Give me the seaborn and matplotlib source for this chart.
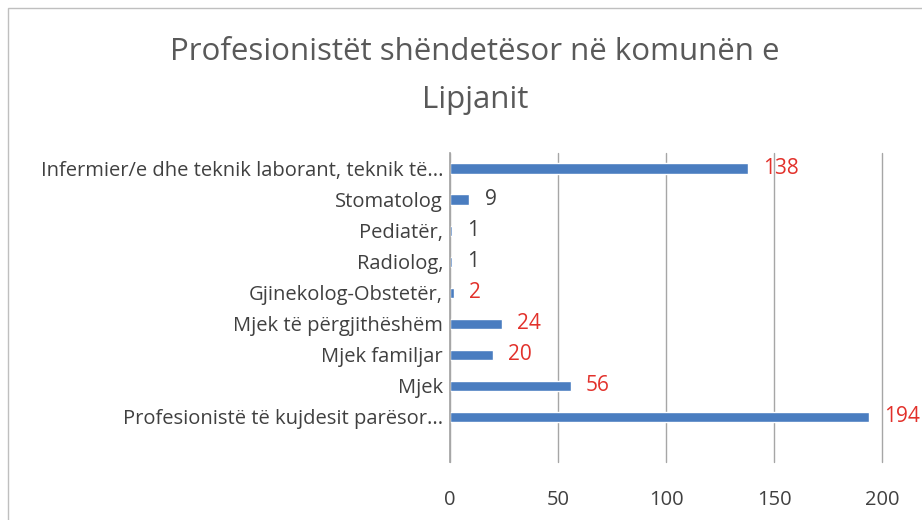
import matplotlib
matplotlib.use("Agg")
import matplotlib.pyplot as plt
import seaborn as sns
import pandas as pd

categories = [
    "Infermier/e dhe teknik laborant, teknik të...",
    "Stomatolog",
    "Pediatër,",
    "Radiolog,",
    "Gjinekolog-Obstetër,",
    "Mjek të përgjithëshëm",
    "Mjek familjar",
    "Mjek",
    "Profesionistë të kujdesit parësor...",
]
values = [138, 9, 1, 1, 2, 24, 20, 56, 194]
label_colors = ["#e2312b", "#404040", "#404040", "#404040", "#e2312b",
                "#e2312b", "#e2312b", "#e2312b", "#e2312b"]
ticks = [0, 50, 100, 150, 200]

df = pd.DataFrame({"kategoria": categories, "numri": values})

sns.set_theme(style="white")
plt.rcParams["font.family"] = ["Open Sans", "DejaVu Sans"]

fig = plt.figure(figsize=(9.22, 5.2), dpi=100)
ax = fig.add_axes([450 / 922, 1 - 462 / 520, (882 - 450) / 922, (462 - 153) / 520])

sns.barplot(data=df, x="numri", y="kategoria", color="#4a7dc0", width=0.33,
            saturation=1, ax=ax)

ax.set_xlim(0, 200)
ax.set_ylim(len(categories) - 0.5 + 0.95, -0.5)
ax.set_xticks(ticks)
ax.grid(axis="x", color="#a6a6a6", linewidth=1)
for gl in ax.get_xgridlines():
    gl.set_clip_on(False)
ax.set_axisbelow(True)
for s in ["top", "right", "bottom"]:
    ax.spines[s].set_visible(False)
ax.spines["left"].set_color("#a6a6a6")
ax.set_xlabel("")
ax.set_ylabel("")
ax.tick_params(axis="both", length=0, labelsize=14.5, labelcolor="#404040")
ax.tick_params(axis="y", pad=5)
ax.tick_params(axis="x", pad=20)

for i, (v, c) in enumerate(zip(values, label_colors)):
    ax.text(v + 7, i, str(v), color=c, fontsize=15, va="center", ha="left")

fig.text(475 / 922, 1 - 52 / 520, "Profesionistët shëndetësor në komunën e",
         ha="center", va="center", fontsize=22.5, color="#595959")
fig.text(475 / 922, 1 - 100 / 520, "Lipjanit",
         ha="center", va="center", fontsize=22.5, color="#595959")

# chart border
fig.add_artist(plt.Rectangle((8 / 922, -0.1), 1.2, 1.1 - 8 / 520, transform=fig.transFigure,
                             fill=False, edgecolor="#bfbfbf", linewidth=1))

fig.savefig("out.png", dpi=100)
